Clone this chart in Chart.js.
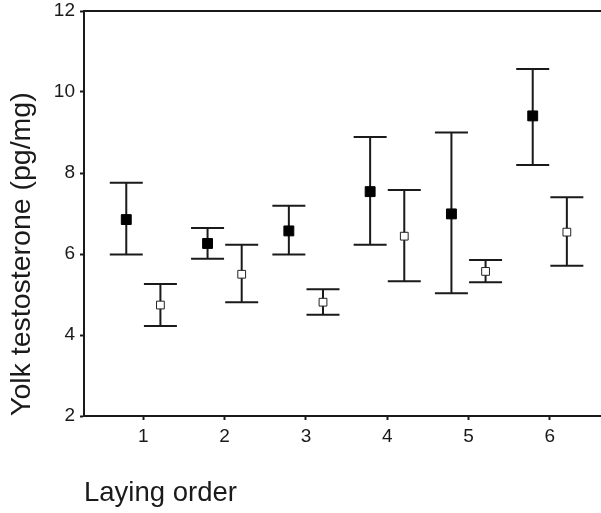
<!DOCTYPE html>
<html>
<head>
<meta charset="utf-8">
<script src="https://cdn.jsdelivr.net/npm/chart.js@4/dist/chart.umd.min.js"></script>
<style>
html,body{margin:0;padding:0;background:#fff;overflow:hidden}
#wrap{width:601px;height:513px}
canvas{display:block}
</style>
</head>
<body>
<div id="wrap"><canvas id="c" width="601" height="513"></canvas></div>
<script>
// laying order categories
const cats=[1,2,3,4,5,6];
// filled squares: mean and error bar ends
const fMean=[6.85,6.26,6.57,7.54,6.99,9.41];
const fLo=[5.99,5.88,5.99,6.23,5.03,8.20];
const fHi=[7.76,6.64,7.19,8.89,9.00,10.57];
// open squares
const oMean=[4.74,5.50,4.81,6.44,5.57,6.54];
const oLo=[4.22,4.81,4.50,5.33,5.30,5.71];
const oHi=[5.26,6.23,5.13,7.58,5.85,7.40];
const yTicks=[2,4,6,8,10,12];

const ink='#1a1a1a';
const shift=0.21;

const errBars={
  id:'errBars',
  beforeDatasetsDraw(chart){
    const ctx=chart.ctx, y=chart.scales.y;
    chart.data.datasets.forEach((ds,di)=>{
      const meta=chart.getDatasetMeta(di);
      ctx.save();
      ctx.strokeStyle=ink;ctx.lineWidth=2;
      meta.data.forEach((pt,i)=>{
        const x=pt.x, top=y.getPixelForValue(ds.hi[i]), bot=y.getPixelForValue(ds.lo[i]);
        ctx.beginPath();
        ctx.moveTo(x,top);ctx.lineTo(x,bot);
        ctx.moveTo(x-16.5,top);ctx.lineTo(x+16.5,top);
        ctx.moveTo(x-16.5,bot);ctx.lineTo(x+16.5,bot);
        ctx.stroke();
      });
      ctx.restore();
    });
  }
};

const noPad=s=>{s.paddingTop=0;s.paddingBottom=0;s.paddingLeft=0;s.paddingRight=0};

new Chart(document.getElementById('c'),{
  type:'scatter',
  data:{
    datasets:[
      {data:cats.map((c,i)=>({x:c-shift,y:fMean[i]})),lo:fLo,hi:fHi,
       pointStyle:'rect',pointRadius:7,backgroundColor:'#000',borderColor:'#000',borderWidth:1},
      {data:cats.map((c,i)=>({x:c+shift,y:oMean[i]})),lo:oLo,hi:oHi,
       pointStyle:'rect',pointRadius:5.5,backgroundColor:'#fff',borderColor:'#222',borderWidth:1}
    ]
  },
  options:{
    responsive:false,animation:false,
    layout:{padding:0,autoPadding:false},
    plugins:{legend:{display:false},tooltip:{enabled:false}},
    events:[],
    scales:{
      x:{type:'linear',position:'bottom',min:0.27,max:6.63,
        afterBuildTicks:s=>{s.ticks=cats.map(v=>({value:v}))},
        afterFit:s=>{s.height=97;noPad(s)},
        border:{display:true,color:ink,width:2},
        grid:{display:true,drawOnChartArea:false,drawTicks:true,tickLength:4,tickColor:ink,tickWidth:2},
        ticks:{color:ink,font:{family:'Arial, "Liberation Sans"',size:19},padding:5,maxRotation:0},
        title:{display:true,text:'Laying order',align:'start',color:ink,
          font:{family:'Arial, "Liberation Sans"',size:27.5},padding:{top:0,bottom:3}}
      },
      x2:{type:'linear',position:'top',min:0,max:1,
        afterFit:s=>{s.height=11;noPad(s)},
        border:{display:true,color:ink,width:2},
        grid:{display:false},ticks:{display:false}
      },
      y:{type:'linear',min:2,max:12,
        afterBuildTicks:s=>{s.ticks=yTicks.map(v=>({value:v}))},
        afterFit:s=>{s.width=84;noPad(s)},
        border:{display:true,color:ink,width:2},
        grid:{display:true,drawOnChartArea:false,drawTicks:true,tickLength:4,tickColor:ink,tickWidth:2},
        ticks:{color:ink,font:{family:'Arial, "Liberation Sans"',size:19},padding:5},
        title:{display:true,text:'Yolk testosterone (pg/mg)',align:'start',color:ink,
          font:{family:'Arial, "Liberation Sans"',size:28.5},padding:{top:5,bottom:0}}
      }
    }
  },
  plugins:[errBars]
});
</script>
</body>
</html>
